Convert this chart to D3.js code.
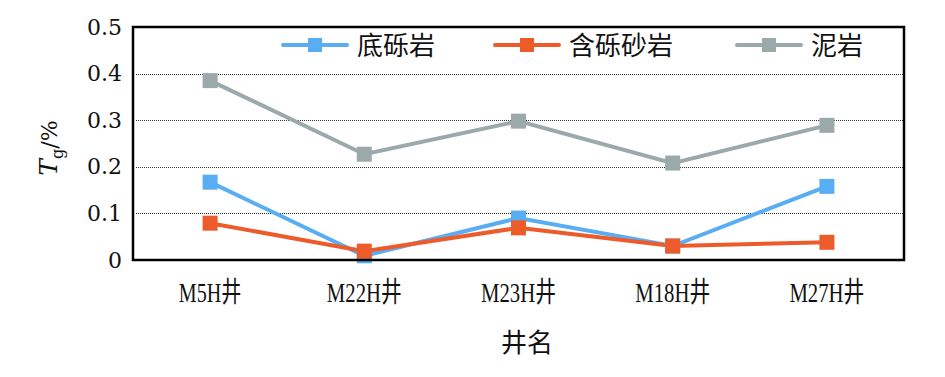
<!DOCTYPE html>
<html>
<head>
<meta charset="utf-8">
<script src="https://cdn.jsdelivr.net/npm/d3@7"></script>
<style>
  body { margin: 0; background: #fff; }
  svg { display: block; }
</style>
</head>
<body>
<div id="chart"></div>
<script>
// wells along the x axis
const wells = ["M5H井", "M22H井", "M23H井", "M18H井", "M27H井"];

// Tg values (%) per lithology
const diliyan = [0.167, 0.009, 0.09, 0.03, 0.158];      // 底砾岩
const hanliShayan = [0.079, 0.019, 0.069, 0.03, 0.038]; // 含砾砂岩
const niyan = [0.385, 0.227, 0.298, 0.208, 0.289];      // 泥岩

const yTicks = [0, 0.1, 0.2, 0.3, 0.4, 0.5];

const series = [
    {name: "底砾岩", values: diliyan, color: "#59adf3"},
    {name: "含砾砂岩", values: hanliShayan, color: "#ee5b2b"},
    {name: "泥岩", values: niyan, color: "#9ba9ab"}
];

const W = 945, H = 377;
const margin = {top: 27, right: 41, bottom: 117, left: 133};
const width = W - margin.left - margin.right;
const height = H - margin.top - margin.bottom;

const svg = d3.select("#chart").append("svg")
    .attr("width", W)
    .attr("height", H);

const g = svg.append("g")
    .attr("transform", `translate(${margin.left},${margin.top})`);

const x = d3.scalePoint()
    .domain(wells)
    .range([0, width])
    .padding(0.5);

const y = d3.scaleLinear()
    .domain([0, 0.5])
    .range([height, 0]);

// dotted gridlines
g.append("g")
    .selectAll("line")
    .data(yTicks.filter(d => d > 0 && d < 0.5))
    .join("line")
    .attr("x1", 3)
    .attr("x2", width)
    .attr("y1", d => Math.round(y(d)) + 0.5)
    .attr("y2", d => Math.round(y(d)) + 0.5)
    .attr("stroke", "#333")
    .attr("stroke-width", 1)
    .attr("stroke-dasharray", "1,1");

// y axis labels
const yAxis = g.append("g")
    .call(d3.axisLeft(y).tickValues(yTicks).tickSize(0).tickPadding(11)
        .tickFormat(d => d === 0 ? "0" : d3.format(".1f")(d)));
yAxis.select(".domain").remove();
yAxis.selectAll("text")
    .style("font-family", "'DejaVu Serif', serif")
    .style("font-size", "22px")
    .attr("fill", "#111");

// x axis labels (narrow song-style text)
const xLab = g.append("g")
    .attr("transform", `translate(0,${height})`);
xLab.selectAll("text")
    .data(wells)
    .join("text")
    .attr("x", d => x(d))
    .attr("y", 42)
    .attr("text-anchor", "middle")
    .attr("textLength", d => (d.length - 1) * 12.5 + 25)
    .attr("lengthAdjust", "spacingAndGlyphs")
    .style("font-family", "'Liberation Serif', 'Noto Sans CJK SC', serif")
    .style("font-size", "28px")
    .attr("fill", "#111")
    .text(d => d);

// x axis title
svg.append("text")
    .attr("x", 527)
    .attr("y", 352)
    .attr("text-anchor", "middle")
    .style("font-family", "'Noto Sans CJK SC', sans-serif")
    .style("font-size", "26px")
    .attr("fill", "#111")
    .text("井名");

// y axis title: Tg/%
const yTitle = svg.append("text")
    .attr("transform", "translate(57,148) rotate(-90)")
    .attr("text-anchor", "middle")
    .style("font-family", "'DejaVu Serif', serif")
    .style("font-size", "25px")
    .attr("fill", "#111");
yTitle.append("tspan").style("font-style", "italic").text("T");
yTitle.append("tspan").attr("dy", 6).style("font-size", "16px").text("g");
yTitle.append("tspan").attr("dy", -6).style("font-size", "22px").text("/%");

// lines and markers
const line = d3.line()
    .x((d, i) => x(wells[i]))
    .y(d => y(d));

series.forEach(s => {
    g.append("path")
        .datum(s.values)
        .attr("fill", "none")
        .attr("stroke", s.color)
        .attr("stroke-width", 4)
        .attr("d", line);
});
series.forEach(s => {
    g.selectAll(null)
        .data(s.values)
        .join("rect")
        .attr("x", (d, i) => x(wells[i]) - 7.5)
        .attr("y", d => y(d) - 7.5)
        .attr("width", 15)
        .attr("height", 15)
        .attr("fill", s.color);
});

// plot frame
g.append("rect")
    .attr("x", 0)
    .attr("y", 0)
    .attr("width", width)
    .attr("height", height)
    .attr("fill", "none")
    .attr("stroke", "#000")
    .attr("stroke-width", 2.5);

// legend
const legendX = [283, 495, 737];
const legend = svg.append("g");
series.forEach((s, i) => {
    const lg = legend.append("g").attr("transform", `translate(${legendX[i]},45)`);
    lg.append("line")
        .attr("x1", 0).attr("x2", 64)
        .attr("y1", 0).attr("y2", 0)
        .attr("stroke", s.color)
        .attr("stroke-width", 4)
        .attr("stroke-linecap", "round");
    lg.append("rect")
        .attr("x", 25).attr("y", -7)
        .attr("width", 14).attr("height", 14)
        .attr("fill", s.color);
    lg.append("text")
        .attr("x", 74)
        .attr("y", 10)
        .style("font-family", "'Noto Sans CJK SC', sans-serif")
        .style("font-size", "26px")
        .attr("fill", "#111")
        .text(s.name);
});
</script>
</body>
</html>
